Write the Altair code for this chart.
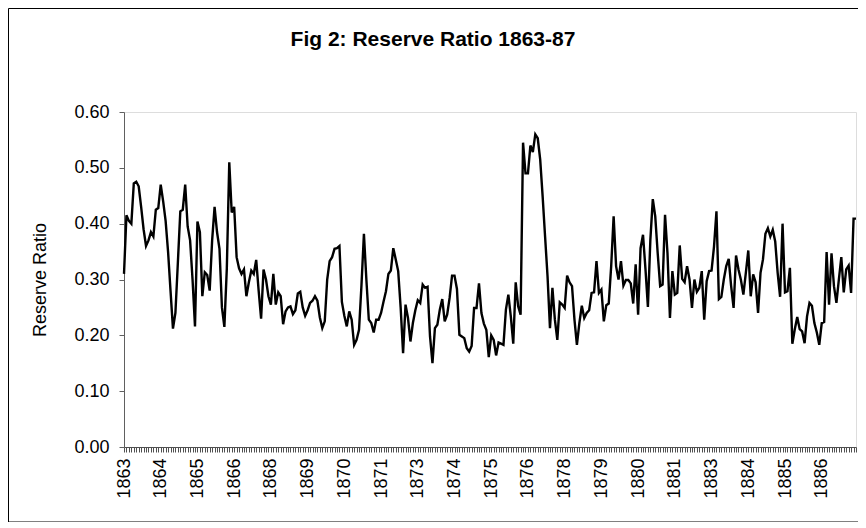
import altair as alt
import pandas as pd

ratio = [
    0.310, 0.415, 0.405, 0.400, 0.472, 0.475, 0.467, 0.430, 0.390, 0.360,
    0.370, 0.385, 0.377, 0.425, 0.428, 0.470, 0.440, 0.405, 0.350, 0.280,
    0.212, 0.240, 0.330, 0.422, 0.425, 0.470, 0.395, 0.370, 0.300, 0.216,
    0.404, 0.385, 0.270, 0.313, 0.308, 0.280, 0.370, 0.430, 0.385, 0.355,
    0.250, 0.215, 0.320, 0.510, 0.420, 0.430, 0.340, 0.320, 0.310, 0.318,
    0.270, 0.295, 0.316, 0.310, 0.335, 0.280, 0.230, 0.318, 0.300, 0.270,
    0.255, 0.310, 0.255, 0.277, 0.270, 0.220, 0.243, 0.250, 0.252, 0.238,
    0.245, 0.275, 0.278, 0.250, 0.235, 0.245, 0.258, 0.262, 0.270, 0.262,
    0.232, 0.213, 0.225, 0.300, 0.333, 0.340, 0.355, 0.356, 0.360, 0.260,
    0.235, 0.216, 0.243, 0.228, 0.183, 0.192, 0.210, 0.290, 0.382, 0.300,
    0.228, 0.222, 0.205, 0.228, 0.228, 0.240, 0.260, 0.279, 0.310, 0.316,
    0.356, 0.336, 0.315, 0.250, 0.168, 0.255, 0.231, 0.189, 0.222, 0.245,
    0.263, 0.258, 0.291, 0.285, 0.287, 0.198, 0.150, 0.213, 0.219, 0.246,
    0.265, 0.225, 0.237, 0.267, 0.307, 0.307, 0.283, 0.201, 0.198, 0.195,
    0.177, 0.171, 0.181, 0.249, 0.249, 0.293, 0.240, 0.221, 0.210, 0.161,
    0.200, 0.192, 0.164, 0.187, 0.185, 0.183, 0.246, 0.273, 0.234, 0.185,
    0.295, 0.252, 0.237, 0.545, 0.490, 0.490, 0.540, 0.528, 0.560, 0.553,
    0.515, 0.449, 0.377, 0.306, 0.213, 0.285, 0.228, 0.192, 0.259, 0.255,
    0.249, 0.307, 0.295, 0.288, 0.228, 0.183, 0.222, 0.253, 0.231, 0.240,
    0.245, 0.276, 0.277, 0.333, 0.276, 0.282, 0.225, 0.254, 0.257, 0.324,
    0.413, 0.324, 0.300, 0.333, 0.289, 0.299, 0.299, 0.293, 0.257, 0.327,
    0.237, 0.356, 0.380, 0.319, 0.251, 0.371, 0.444, 0.413, 0.347, 0.288,
    0.291, 0.416, 0.347, 0.231, 0.315, 0.273, 0.276, 0.361, 0.301, 0.295,
    0.324, 0.300, 0.249, 0.300, 0.278, 0.285, 0.315, 0.228, 0.297, 0.315,
    0.316, 0.359, 0.422, 0.265, 0.269, 0.300, 0.324, 0.337, 0.288, 0.249,
    0.343, 0.318, 0.299, 0.273, 0.312, 0.352, 0.270, 0.309, 0.295, 0.240,
    0.312, 0.336, 0.382, 0.392, 0.377, 0.389, 0.368, 0.312, 0.269, 0.400,
    0.277, 0.279, 0.321, 0.185, 0.211, 0.233, 0.211, 0.207, 0.186, 0.234,
    0.258, 0.253, 0.222, 0.205, 0.183, 0.222, 0.224, 0.349, 0.255, 0.347,
    0.288, 0.258, 0.300, 0.340, 0.277, 0.318, 0.325, 0.276, 0.409, 0.409,
]

label_positions = [0, 15, 30, 45, 60, 75, 90, 105, 120, 135,
                   150, 165, 180, 195, 210, 225, 240, 255, 270, 285]
label_texts = ["1863", "1864", "1865", "1866", "1868", "1869", "1870", "1871", "1873", "1874",
               "1875", "1876", "1878", "1879", "1880", "1881", "1883", "1884", "1885", "1886"]
y_ticks = [0.0, 0.1, 0.2, 0.3, 0.4, 0.5, 0.6]
title_text = "Fig 2: Reserve Ratio 1863-87"

df = pd.DataFrame({"idx": list(range(len(ratio))), "ratio": ratio})

pos_js = "[" + ",".join(str(p) for p in label_positions) + "]"
lab_js = "[" + ",".join("'" + t + "'" for t in label_texts) + "]"
label_expr = f"indexof({pos_js}, datum.value) >= 0 ? {lab_js}[indexof({pos_js}, datum.value)] : ''"

FONT = "Liberation Sans"
W, H = 732, 335

line = alt.Chart(df).mark_line(color="black", strokeWidth=2.4).encode(
    x=alt.X(
        "idx:Q",
        scale=alt.Scale(domain=[0, len(ratio) - 1], nice=False, zero=False),
        axis=alt.Axis(
            values=list(range(len(ratio))),
            labelExpr=label_expr,
            labelAngle=270,
            labelOverlap=False,
            labelBound=False,
            labelFlush=False,
            labelFont=FONT,
            labelFontSize=18,
            labelColor="black",
            labelPadding=6,
            tickSize=5,
            tickColor="#505050",
            domainColor="#505050",
            grid=False,
            title=None,
        ),
    ),
    y=alt.Y(
        "ratio:Q",
        scale=alt.Scale(domain=[0, 0.6], nice=False),
        axis=alt.Axis(
            values=y_ticks,
            format=".2f",
            labelFont=FONT,
            labelFontSize=18,
            labelColor="black",
            labelPadding=10,
            tickSize=5,
            tickColor="#606060",
            domainColor="#606060",
            grid=False,
            title="Reserve Ratio",
            titleFont=FONT,
            titleFontSize=18,
            titleFontWeight="normal",
            titleColor="black",
            titleX=-84,
            titleY=H / 2,
            titleAlign="center",
            titleBaseline="middle",
            titleAngle=270,
        ),
    ),
)

border = alt.Chart(pd.DataFrame({"a": [0]})).mark_rect(
    fillOpacity=0, stroke="black", strokeWidth=1
).encode(
    x=alt.value(-115.5), x2=alt.value(738), y=alt.value(-103.5), y2=alt.value(410)
)

title = alt.Chart(pd.DataFrame({"t": [title_text]})).mark_text(
    font=FONT, fontSize=21, fontWeight="bold", color="black", align="center", baseline="middle"
).encode(text="t:N", x=alt.value(309), y=alt.value(-72))

chart = alt.layer(border, line, title).properties(
    width=W,
    height=H,
    autosize=alt.AutoSizeParams(type="none"),
    padding={"left": 116, "top": 104, "right": 2, "bottom": 75},
).configure_view(stroke=None).configure(background="white")

chart.save("out.html", embed_options={"renderer": "svg", "actions": False})
